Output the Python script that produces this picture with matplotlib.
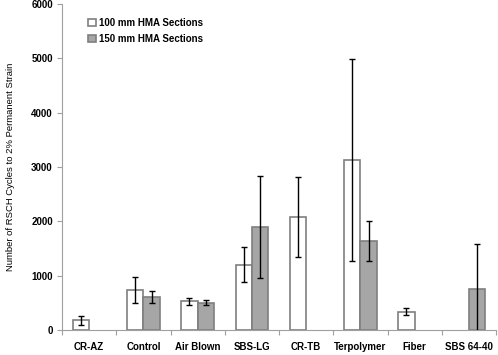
import matplotlib
matplotlib.use('Agg')
import matplotlib.pyplot as plt
import numpy as np

categories = ["CR-AZ", "Control", "Air Blown", "SBS-LG", "CR-TB",
              "Terpolymer", "Fiber", "SBS 64-40"]
mm100 = [178, 742, 528, 1203, 2075, 3130, 337, np.nan]
mm100_err = [88, 240, 65, 325, 740, 1860, 62, np.nan]
mm150 = [np.nan, 608, 503, 1902, np.nan, 1639, np.nan, 755]
mm150_err = [np.nan, 110, 40, 940, np.nan, 360, np.nan, 820]

plt.rcParams['font.family'] = ['Liberation Sans', 'DejaVu Sans']

fig = plt.figure(figsize=(4.98, 3.55), dpi=100)
ax = fig.add_axes([62 / 498, 25 / 355, 434 / 498, 326 / 355])

x = np.arange(len(categories))
w = 0.3
err_kw = dict(ecolor='black', elinewidth=1, capsize=2.5, capthick=1)
ax.bar(x - w / 2, mm100, w, yerr=mm100_err, color='white', edgecolor='#7f7f7f',
       linewidth=1.2, label='100 mm HMA Sections', error_kw=err_kw)
ax.bar(x + w / 2, mm150, w, yerr=mm150_err, color='#a6a6a6', edgecolor='#7f7f7f',
       linewidth=1.2, label='150 mm HMA Sections', error_kw=err_kw)

ax.set_xlim(-0.5, len(categories) - 0.5)
ax.set_ylim(0, 6000)
ax.set_yticks(range(0, 6001, 1000))
ax.set_yticklabels([str(v) for v in range(0, 6001, 1000)], fontsize=7, fontweight='bold')

ax.set_xticks(np.arange(len(categories) + 1) - 0.5)
ax.set_xticklabels([])
ax.set_xticks(x, minor=True)
ax.set_xticklabels(categories, minor=True, fontsize=7, fontweight='bold')
ax.tick_params(axis='x', which='minor', length=0, pad=8.5)
ax.tick_params(axis='x', which='major', length=3.6, color='#a0a0a0')
ax.tick_params(axis='y', length=3.6, color='#a0a0a0', pad=3)

for side in ['top', 'right']:
    ax.spines[side].set_visible(False)
for side in ['left', 'bottom']:
    ax.spines[side].set_color('#a0a0a0')

ax.set_ylabel('Number of RSCH Cycles to 2% Permanent Strain', fontsize=6.8, labelpad=12)

ax.legend(loc='upper left', bbox_to_anchor=(0.04, 0.985), frameon=False,
          prop={'weight': 'bold', 'size': 7}, handlelength=0.8, handleheight=0.8,
          handletextpad=0.3, labelspacing=0.65)

fig.savefig('out.png', dpi=100)
